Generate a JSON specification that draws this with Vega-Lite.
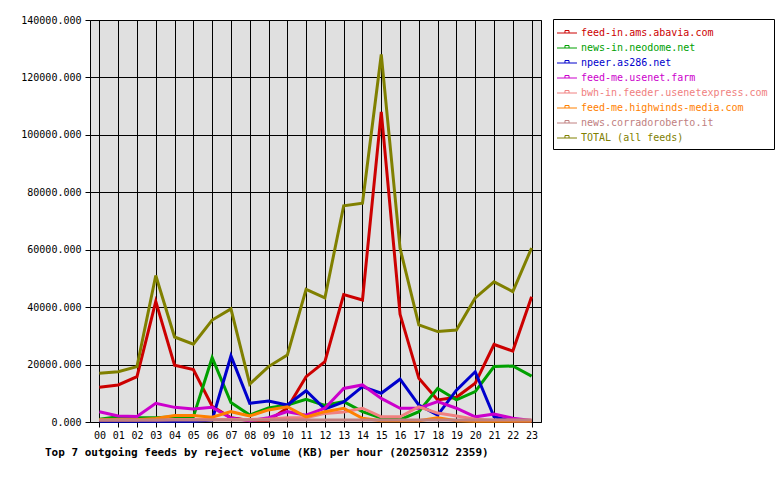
{
  "$schema": "https://vega.github.io/schema/vega-lite/v6.json",
  "width": 451,
  "height": 402,
  "autosize": {"type": "none"},
  "padding": {"left": 90, "top": 20, "right": 239, "bottom": 58},
  "background": "white",
  "config": {
    "view": {"stroke": "black", "fill": "#e0e0e0", "strokeWidth": 1},
    "font": "DejaVu Sans Mono"
  },
  "title": {
    "text": "Top 7 outgoing feeds by reject volume (KB) per hour (20250312 2359)",
    "orient": "bottom",
    "anchor": "start",
    "frame": "group",
    "dx": -45,
    "offset": 7,
    "fontSize": 11,
    "fontWeight": "bold",
    "font": "DejaVu Sans Mono",
    "color": "black"
  },
  "datasets": {
    "feeds": [
      {"f": "feed-in.ams.abavia.com", "h": "00", "v": 12100}, {"f": "feed-in.ams.abavia.com", "h": "01", "v": 12900}, {"f": "feed-in.ams.abavia.com", "h": "02", "v": 15800}, {"f": "feed-in.ams.abavia.com", "h": "03", "v": 42000}, {"f": "feed-in.ams.abavia.com", "h": "04", "v": 19800}, {"f": "feed-in.ams.abavia.com", "h": "05", "v": 18300}, {"f": "feed-in.ams.abavia.com", "h": "06", "v": 5500}, {"f": "feed-in.ams.abavia.com", "h": "07", "v": 1500}, {"f": "feed-in.ams.abavia.com", "h": "08", "v": 500}, {"f": "feed-in.ams.abavia.com", "h": "09", "v": 500}, {"f": "feed-in.ams.abavia.com", "h": "10", "v": 4900}, {"f": "feed-in.ams.abavia.com", "h": "11", "v": 15800}, {"f": "feed-in.ams.abavia.com", "h": "12", "v": 21000}, {"f": "feed-in.ams.abavia.com", "h": "13", "v": 44400}, {"f": "feed-in.ams.abavia.com", "h": "14", "v": 42500}, {"f": "feed-in.ams.abavia.com", "h": "15", "v": 108000}, {"f": "feed-in.ams.abavia.com", "h": "16", "v": 37500}, {"f": "feed-in.ams.abavia.com", "h": "17", "v": 15200}, {"f": "feed-in.ams.abavia.com", "h": "18", "v": 7700}, {"f": "feed-in.ams.abavia.com", "h": "19", "v": 8600}, {"f": "feed-in.ams.abavia.com", "h": "20", "v": 13500}, {"f": "feed-in.ams.abavia.com", "h": "21", "v": 27000}, {"f": "feed-in.ams.abavia.com", "h": "22", "v": 24700}, {"f": "feed-in.ams.abavia.com", "h": "23", "v": 43600},
      {"f": "news-in.neodome.net", "h": "00", "v": 1000}, {"f": "news-in.neodome.net", "h": "01", "v": 1800}, {"f": "news-in.neodome.net", "h": "02", "v": 1500}, {"f": "news-in.neodome.net", "h": "03", "v": 1500}, {"f": "news-in.neodome.net", "h": "04", "v": 1800}, {"f": "news-in.neodome.net", "h": "05", "v": 1800}, {"f": "news-in.neodome.net", "h": "06", "v": 22400}, {"f": "news-in.neodome.net", "h": "07", "v": 6800}, {"f": "news-in.neodome.net", "h": "08", "v": 2400}, {"f": "news-in.neodome.net", "h": "09", "v": 4900}, {"f": "news-in.neodome.net", "h": "10", "v": 5900}, {"f": "news-in.neodome.net", "h": "11", "v": 7900}, {"f": "news-in.neodome.net", "h": "12", "v": 5800}, {"f": "news-in.neodome.net", "h": "13", "v": 7100}, {"f": "news-in.neodome.net", "h": "14", "v": 3600}, {"f": "news-in.neodome.net", "h": "15", "v": 1400}, {"f": "news-in.neodome.net", "h": "16", "v": 800}, {"f": "news-in.neodome.net", "h": "17", "v": 3600}, {"f": "news-in.neodome.net", "h": "18", "v": 11700}, {"f": "news-in.neodome.net", "h": "19", "v": 7700}, {"f": "news-in.neodome.net", "h": "20", "v": 10600}, {"f": "news-in.neodome.net", "h": "21", "v": 19300}, {"f": "news-in.neodome.net", "h": "22", "v": 19500}, {"f": "news-in.neodome.net", "h": "23", "v": 16000},
      {"f": "npeer.as286.net", "h": "00", "v": 300}, {"f": "npeer.as286.net", "h": "01", "v": 300}, {"f": "npeer.as286.net", "h": "02", "v": 300}, {"f": "npeer.as286.net", "h": "03", "v": 300}, {"f": "npeer.as286.net", "h": "04", "v": 300}, {"f": "npeer.as286.net", "h": "05", "v": 300}, {"f": "npeer.as286.net", "h": "06", "v": 700}, {"f": "npeer.as286.net", "h": "07", "v": 23000}, {"f": "npeer.as286.net", "h": "08", "v": 6500}, {"f": "npeer.as286.net", "h": "09", "v": 7300}, {"f": "npeer.as286.net", "h": "10", "v": 5900}, {"f": "npeer.as286.net", "h": "11", "v": 10900}, {"f": "npeer.as286.net", "h": "12", "v": 4500}, {"f": "npeer.as286.net", "h": "13", "v": 7000}, {"f": "npeer.as286.net", "h": "14", "v": 12300}, {"f": "npeer.as286.net", "h": "15", "v": 10000}, {"f": "npeer.as286.net", "h": "16", "v": 14900}, {"f": "npeer.as286.net", "h": "17", "v": 5900}, {"f": "npeer.as286.net", "h": "18", "v": 2400}, {"f": "npeer.as286.net", "h": "19", "v": 11100}, {"f": "npeer.as286.net", "h": "20", "v": 17500}, {"f": "npeer.as286.net", "h": "21", "v": 1800}, {"f": "npeer.as286.net", "h": "22", "v": 300}, {"f": "npeer.as286.net", "h": "23", "v": 300},
      {"f": "feed-me.usenet.farm", "h": "00", "v": 3600}, {"f": "feed-me.usenet.farm", "h": "01", "v": 2100}, {"f": "feed-me.usenet.farm", "h": "02", "v": 1900}, {"f": "feed-me.usenet.farm", "h": "03", "v": 6500}, {"f": "feed-me.usenet.farm", "h": "04", "v": 5100}, {"f": "feed-me.usenet.farm", "h": "05", "v": 4500}, {"f": "feed-me.usenet.farm", "h": "06", "v": 5100}, {"f": "feed-me.usenet.farm", "h": "07", "v": 1400}, {"f": "feed-me.usenet.farm", "h": "08", "v": 400}, {"f": "feed-me.usenet.farm", "h": "09", "v": 1500}, {"f": "feed-me.usenet.farm", "h": "10", "v": 3600}, {"f": "feed-me.usenet.farm", "h": "11", "v": 2400}, {"f": "feed-me.usenet.farm", "h": "12", "v": 4800}, {"f": "feed-me.usenet.farm", "h": "13", "v": 11700}, {"f": "feed-me.usenet.farm", "h": "14", "v": 12900}, {"f": "feed-me.usenet.farm", "h": "15", "v": 8200}, {"f": "feed-me.usenet.farm", "h": "16", "v": 4800}, {"f": "feed-me.usenet.farm", "h": "17", "v": 4800}, {"f": "feed-me.usenet.farm", "h": "18", "v": 7100}, {"f": "feed-me.usenet.farm", "h": "19", "v": 4800}, {"f": "feed-me.usenet.farm", "h": "20", "v": 1800}, {"f": "feed-me.usenet.farm", "h": "21", "v": 2800}, {"f": "feed-me.usenet.farm", "h": "22", "v": 1300}, {"f": "feed-me.usenet.farm", "h": "23", "v": 500},
      {"f": "bwh-in.feeder.usenetexpress.com", "h": "00", "v": 700}, {"f": "bwh-in.feeder.usenetexpress.com", "h": "01", "v": 700}, {"f": "bwh-in.feeder.usenetexpress.com", "h": "02", "v": 700}, {"f": "bwh-in.feeder.usenetexpress.com", "h": "03", "v": 700}, {"f": "bwh-in.feeder.usenetexpress.com", "h": "04", "v": 900}, {"f": "bwh-in.feeder.usenetexpress.com", "h": "05", "v": 900}, {"f": "bwh-in.feeder.usenetexpress.com", "h": "06", "v": 900}, {"f": "bwh-in.feeder.usenetexpress.com", "h": "07", "v": 900}, {"f": "bwh-in.feeder.usenetexpress.com", "h": "08", "v": 900}, {"f": "bwh-in.feeder.usenetexpress.com", "h": "09", "v": 1000}, {"f": "bwh-in.feeder.usenetexpress.com", "h": "10", "v": 1500}, {"f": "bwh-in.feeder.usenetexpress.com", "h": "11", "v": 1500}, {"f": "bwh-in.feeder.usenetexpress.com", "h": "12", "v": 3000}, {"f": "bwh-in.feeder.usenetexpress.com", "h": "13", "v": 3500}, {"f": "bwh-in.feeder.usenetexpress.com", "h": "14", "v": 4800}, {"f": "bwh-in.feeder.usenetexpress.com", "h": "15", "v": 1800}, {"f": "bwh-in.feeder.usenetexpress.com", "h": "16", "v": 1800}, {"f": "bwh-in.feeder.usenetexpress.com", "h": "17", "v": 5300}, {"f": "bwh-in.feeder.usenetexpress.com", "h": "18", "v": 3100}, {"f": "bwh-in.feeder.usenetexpress.com", "h": "19", "v": 2100}, {"f": "bwh-in.feeder.usenetexpress.com", "h": "20", "v": 1000}, {"f": "bwh-in.feeder.usenetexpress.com", "h": "21", "v": 600}, {"f": "bwh-in.feeder.usenetexpress.com", "h": "22", "v": 600}, {"f": "bwh-in.feeder.usenetexpress.com", "h": "23", "v": 600},
      {"f": "feed-me.highwinds-media.com", "h": "00", "v": 800}, {"f": "feed-me.highwinds-media.com", "h": "01", "v": 800}, {"f": "feed-me.highwinds-media.com", "h": "02", "v": 800}, {"f": "feed-me.highwinds-media.com", "h": "03", "v": 1200}, {"f": "feed-me.highwinds-media.com", "h": "04", "v": 2300}, {"f": "feed-me.highwinds-media.com", "h": "05", "v": 2300}, {"f": "feed-me.highwinds-media.com", "h": "06", "v": 1700}, {"f": "feed-me.highwinds-media.com", "h": "07", "v": 3600}, {"f": "feed-me.highwinds-media.com", "h": "08", "v": 2100}, {"f": "feed-me.highwinds-media.com", "h": "09", "v": 4200}, {"f": "feed-me.highwinds-media.com", "h": "10", "v": 5300}, {"f": "feed-me.highwinds-media.com", "h": "11", "v": 1800}, {"f": "feed-me.highwinds-media.com", "h": "12", "v": 3600}, {"f": "feed-me.highwinds-media.com", "h": "13", "v": 4800}, {"f": "feed-me.highwinds-media.com", "h": "14", "v": 1300}, {"f": "feed-me.highwinds-media.com", "h": "15", "v": 400}, {"f": "feed-me.highwinds-media.com", "h": "16", "v": 400}, {"f": "feed-me.highwinds-media.com", "h": "17", "v": 400}, {"f": "feed-me.highwinds-media.com", "h": "18", "v": 1500}, {"f": "feed-me.highwinds-media.com", "h": "19", "v": 400}, {"f": "feed-me.highwinds-media.com", "h": "20", "v": 300}, {"f": "feed-me.highwinds-media.com", "h": "21", "v": 300}, {"f": "feed-me.highwinds-media.com", "h": "22", "v": 300}, {"f": "feed-me.highwinds-media.com", "h": "23", "v": 300},
      {"f": "news.corradoroberto.it", "h": "00", "v": 700}, {"f": "news.corradoroberto.it", "h": "01", "v": 700}, {"f": "news.corradoroberto.it", "h": "02", "v": 700}, {"f": "news.corradoroberto.it", "h": "03", "v": 700}, {"f": "news.corradoroberto.it", "h": "04", "v": 700}, {"f": "news.corradoroberto.it", "h": "05", "v": 700}, {"f": "news.corradoroberto.it", "h": "06", "v": 700}, {"f": "news.corradoroberto.it", "h": "07", "v": 700}, {"f": "news.corradoroberto.it", "h": "08", "v": 700}, {"f": "news.corradoroberto.it", "h": "09", "v": 700}, {"f": "news.corradoroberto.it", "h": "10", "v": 700}, {"f": "news.corradoroberto.it", "h": "11", "v": 700}, {"f": "news.corradoroberto.it", "h": "12", "v": 700}, {"f": "news.corradoroberto.it", "h": "13", "v": 700}, {"f": "news.corradoroberto.it", "h": "14", "v": 700}, {"f": "news.corradoroberto.it", "h": "15", "v": 700}, {"f": "news.corradoroberto.it", "h": "16", "v": 700}, {"f": "news.corradoroberto.it", "h": "17", "v": 700}, {"f": "news.corradoroberto.it", "h": "18", "v": 700}, {"f": "news.corradoroberto.it", "h": "19", "v": 700}, {"f": "news.corradoroberto.it", "h": "20", "v": 700}, {"f": "news.corradoroberto.it", "h": "21", "v": 700}, {"f": "news.corradoroberto.it", "h": "22", "v": 700}, {"f": "news.corradoroberto.it", "h": "23", "v": 700},
      {"f": "TOTAL (all feeds)", "h": "00", "v": 17000}, {"f": "TOTAL (all feeds)", "h": "01", "v": 17500}, {"f": "TOTAL (all feeds)", "h": "02", "v": 19300}, {"f": "TOTAL (all feeds)", "h": "03", "v": 51000}, {"f": "TOTAL (all feeds)", "h": "04", "v": 29600}, {"f": "TOTAL (all feeds)", "h": "05", "v": 27100}, {"f": "TOTAL (all feeds)", "h": "06", "v": 35500}, {"f": "TOTAL (all feeds)", "h": "07", "v": 39400}, {"f": "TOTAL (all feeds)", "h": "08", "v": 13200}, {"f": "TOTAL (all feeds)", "h": "09", "v": 19300}, {"f": "TOTAL (all feeds)", "h": "10", "v": 23300}, {"f": "TOTAL (all feeds)", "h": "11", "v": 46200}, {"f": "TOTAL (all feeds)", "h": "12", "v": 43200}, {"f": "TOTAL (all feeds)", "h": "13", "v": 75300}, {"f": "TOTAL (all feeds)", "h": "14", "v": 76200}, {"f": "TOTAL (all feeds)", "h": "15", "v": 128000}, {"f": "TOTAL (all feeds)", "h": "16", "v": 60500}, {"f": "TOTAL (all feeds)", "h": "17", "v": 33800}, {"f": "TOTAL (all feeds)", "h": "18", "v": 31500}, {"f": "TOTAL (all feeds)", "h": "19", "v": 32000}, {"f": "TOTAL (all feeds)", "h": "20", "v": 43200}, {"f": "TOTAL (all feeds)", "h": "21", "v": 48800}, {"f": "TOTAL (all feeds)", "h": "22", "v": 45400}, {"f": "TOTAL (all feeds)", "h": "23", "v": 60600}
    ]
  },
  "data": {"name": "feeds"},
  "mark": {"type": "line", "strokeWidth": 3},
  "encoding": {
    "x": {
      "field": "h",
      "type": "ordinal",
      "scale": {"type": "point", "padding": 0.5},
      "axis": {
        "title": null,
        "labelAngle": 0,
        "grid": true,
        "gridColor": "black",
        "gridOpacity": 1,
        "gridWidth": 1,
        "domain": false,
        "ticks": true,
        "tickColor": "black",
        "tickSize": 5,
        "labelFont": "DejaVu Sans Mono",
        "labelFontSize": 10,
        "labelColor": "black",
        "labelPadding": 3
      }
    },
    "y": {
      "field": "v",
      "type": "quantitative",
      "scale": {"domain": [0, 140000], "nice": false},
      "axis": {
        "title": null,
        "values": [0, 20000, 40000, 60000, 80000, 100000, 120000, 140000],
        "format": ".3f",
        "grid": true,
        "gridColor": "black",
        "gridOpacity": 1,
        "gridWidth": 1,
        "domain": false,
        "tickColor": "black",
        "tickSize": 5,
        "labelFont": "DejaVu Sans Mono",
        "labelFontSize": 10,
        "labelColor": "black",
        "labelPadding": 4
      }
    },
    "color": {
      "field": "f",
      "type": "nominal",
      "sort": null,
      "scale": {
        "domain": ["feed-in.ams.abavia.com", "news-in.neodome.net", "npeer.as286.net", "feed-me.usenet.farm", "bwh-in.feeder.usenetexpress.com", "feed-me.highwinds-media.com", "news.corradoroberto.it", "TOTAL (all feeds)"],
        "range": ["#cc0000", "#00a000", "#0000cc", "#cc00cc", "#f08080", "#ff8000", "#c08080", "#808000"]
      },
      "legend": {
        "orient": "none",
        "legendX": 463,
        "legendY": -1,
        "title": null,
        "symbolType": "M-1.333,0H1.333M-0.27,0V-0.33H0.27V0",
        "symbolSize": 225,
        "symbolStrokeWidth": 1,
        "labelFont": "DejaVu Sans Mono",
        "labelFontSize": 10,
        "labelLimit": 400,
        "labelColor": {"expr": "scale('color', datum.value)"},
        "labelOffset": 6,
        "strokeColor": "black",
        "fillColor": "white",
        "padding": 6,
        "rowPadding": 2
      }
    }
  }
}
